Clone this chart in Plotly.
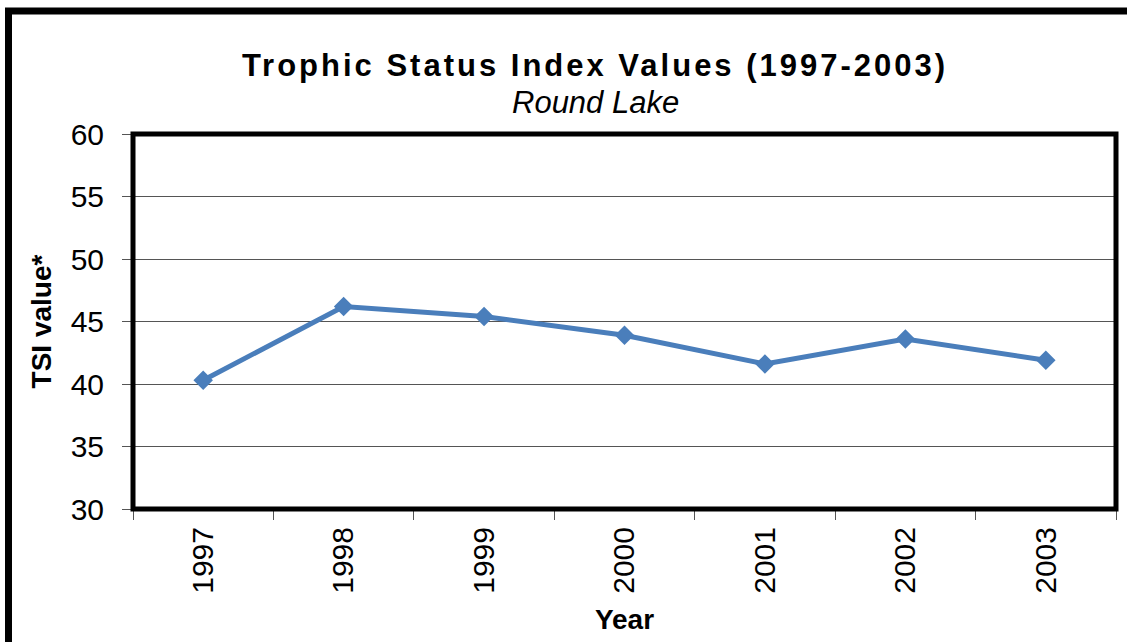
import plotly.graph_objects as go

years = ["1997", "1998", "1999", "2000", "2001", "2002", "2003"]
tsi_values = [40.3, 46.2, 45.4, 43.9, 41.6, 43.6, 41.9]
y_ticks = [30, 35, 40, 45, 50, 55, 60]

title_text = "Trophic Status Index Values (1997-2003)"
subtitle_text = "Round Lake"
y_title = "TSI value*"
x_title = "Year"

FONT = "Liberation Sans, Arial, sans-serif"
W, H = 1127, 642
L, R, T, B = 133, 11, 134, 133

fig = go.Figure()
fig.add_trace(go.Scatter(
    x=years, y=tsi_values, mode="lines+markers",
    line=dict(color="#4A7EBB", width=5),
    marker=dict(symbol="diamond", size=15, color="#4A7EBB"),
    showlegend=False,
))

fig.update_layout(
    width=W, height=H,
    margin=dict(l=L, r=R, t=T, b=B, pad=0),
    paper_bgcolor="white", plot_bgcolor="white",
    font=dict(family=FONT, color="black"),
    title=dict(
        text=f"<b>{title_text}</b>",
        font=dict(family=FONT, size=31, color="black"),
        xref="container", yref="container",
        x=595 / W, y=1 - 65 / H, xanchor="center", yanchor="middle",
    ),
    xaxis=dict(
        type="category", range=[-0.5, 6.5],
        tickson="boundaries", ticks="outside", ticklen=10, tickwidth=1, tickcolor="#555",
        tickangle=-90, tickfont=dict(family=FONT, size=30, color="black"),
        ticklabelstandoff=11,
        showgrid=False, showline=False, zeroline=False,
        title=dict(text=f"<b>{x_title}</b>", font=dict(family=FONT, size=28, color="black"), standoff=16),
    ),
    yaxis=dict(
        range=[30, 60], tickvals=y_ticks, ticks="outside", ticklen=10, tickwidth=1, tickcolor="#555",
        tickfont=dict(family=FONT, size=30, color="black"),
        ticklabelstandoff=12,
        showgrid=True, gridcolor="#555", gridwidth=1,
        showline=False, zeroline=False,
        title=dict(text=f"<b>{y_title}</b>", font=dict(family=FONT, size=28, color="black"), standoff=10),
    ),
)

fig.add_annotation(
    text=f"<i>{subtitle_text}</i>", xref="paper", yref="paper",
    x=(595 - L) / (W - L - R), y=(H - B - 102) / (H - T - B),
    xanchor="center", yanchor="middle", showarrow=False,
    font=dict(family=FONT, size=31, color="black"),
)

# plot-area frame
fig.add_shape(type="rect", xref="paper", yref="paper", x0=0, x1=1, y0=0, y1=1,
              line=dict(color="black", width=5), layer="above")
# outer chart border (right and bottom edges fall outside the picture)
pw, ph = W - L - R, H - T - B
fig.add_shape(type="rect", xref="paper", yref="paper",
              x0=(8.5 - L) / pw, x1=(W + 40 - L) / pw,
              y0=(H - B - (H + 40)) / ph, y1=(H - B - 11) / ph,
              line=dict(color="black", width=7), layer="above")

post = """
document.body.style.margin = '0';
document.body.style.overflow = 'hidden';
var gd = document.getElementById('{plot_id}');
function spaceTitle(){ document.querySelectorAll('.gtitle').forEach(function(e){ e.style.letterSpacing='3px'; }); }
spaceTitle();
gd.on && gd.on('plotly_afterplot', spaceTitle);
setTimeout(spaceTitle, 50);
"""
fig.write_html("out.html", post_script=post, config={"displayModeBar": False})
